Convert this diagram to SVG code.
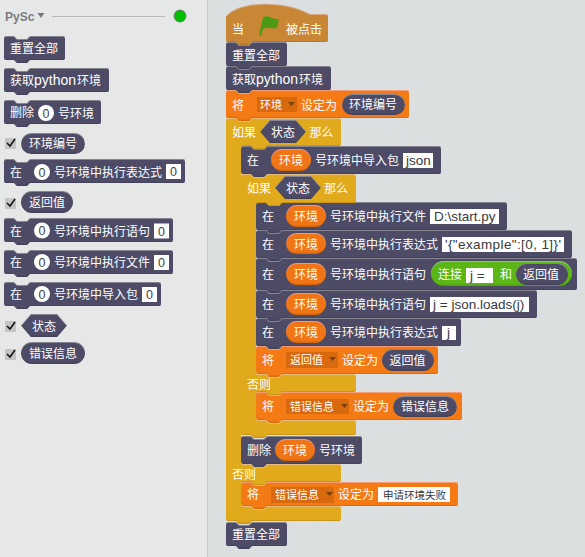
<svg xmlns="http://www.w3.org/2000/svg" width="585" height="557" viewBox="0 0 585 557">
<style>
text{font-family:"Noto Sans CJK SC","Liberation Sans",sans-serif;font-size:12px;fill:#fff}
.l{font-family:"Liberation Sans","Noto Sans CJK SC",sans-serif;font-size:14px}
.d{font-family:"Liberation Sans","Noto Sans CJK SC",sans-serif;font-size:13.5px;fill:#3a3a3a}
.n{font-family:"Liberation Sans",sans-serif;font-size:12.5px;fill:#444;text-anchor:middle}
.m{font-size:11px}
.k{fill:#4e4b66;filter:url(#bv)}
.o{fill:#f47a16;filter:url(#bv)}
.g{fill:#e1a91a;filter:url(#bv)}
.r{fill:#4e4b66;filter:url(#bv)}
.v{fill:#ef7514;filter:url(#bv)}
.i{fill:#fff}
.c{fill:#fff}
.dd{fill:#d9690f}
.tr{fill:#7a4208}
.cb{fill:#c4c4c4}
.ck{fill:none;stroke:#111;stroke-width:1.5}
</style>
<defs>
<pattern id="dots" width="19" height="19" patternUnits="userSpaceOnUse"><rect x="9" y="9" width="1" height="1" fill="#d0d3d3"/></pattern>
<filter id="bv" x="-5%" y="-10%" width="110%" height="120%">
<feOffset in="SourceAlpha" dy="-1.5" result="u"/>
<feComposite in="SourceAlpha" in2="u" operator="out" result="be"/>
<feFlood flood-color="#000" flood-opacity=".22"/><feComposite in2="be" operator="in" result="bs"/>
<feOffset in="SourceAlpha" dy="1" result="d"/>
<feComposite in="SourceAlpha" in2="d" operator="out" result="te"/>
<feFlood flood-color="#fff" flood-opacity=".18"/><feComposite in2="te" operator="in" result="ts"/>
<feMerge><feMergeNode in="SourceGraphic"/><feMergeNode in="bs"/><feMergeNode in="ts"/></feMerge>
</filter>
</defs>
<rect width="585" height="557" fill="#dcdfdf"/>
<rect width="585" height="557" fill="url(#dots)"/>
<rect width="207" height="557" fill="#e6e8e8"/>
<rect x="207" width="1" height="557" fill="#c6c8c8"/>

<g id="palette-header">
<text x="5" y="21" style="font-family:'Liberation Sans',sans-serif;font-weight:bold;font-size:12px;fill:#7d7d7d">PySc</text>
<path d="M37.500 13h7l-3.500 5z" fill="#777"/>
<rect x="52" y="16" width="113" height="1" fill="#b8b8b8"/>
<circle cx="180" cy="16" r="6" fill="#00bf00" stroke="#666" stroke-width=".8"/>
</g>

<g id="p-import"><path class="k" d="M4 284q0-2 2-2h8l3 3h10l3-3h129q2 0 2 2v20q0 2-2 2h-129l-3 3h-10l-3-3h-8q-2 0-2-2z"/><text x="10" y="299">在</text><circle class="c" cx="42" cy="294" r="8"/><text class="n" x="42" y="298.500">0</text><text x="54" y="299">号环境中导入包</text><rect class="i" x="142" y="287" width="15" height="15"/><text class="n" x="149.500" y="299">0</text></g>
<g id="p-file"><path class="k" d="M4 252q0-2 2-2h8l3 3h10l3-3h141q2 0 2 2v20q0 2-2 2h-141l-3 3h-10l-3-3h-8q-2 0-2-2z"/><text x="10" y="267">在</text><circle class="c" cx="42" cy="262" r="8"/><text class="n" x="42" y="266.500">0</text><text x="54" y="267">号环境中执行文件</text><rect class="i" x="154" y="255" width="15" height="15"/><text class="n" x="161.500" y="267">0</text></g>
<g id="p-stmt"><path class="k" d="M4 220q0-2 2-2h8l3 3h10l3-3h141q2 0 2 2v20q0 2-2 2h-141l-3 3h-10l-3-3h-8q-2 0-2-2z"/><text x="10" y="235.500">在</text><circle class="c" cx="42" cy="230.500" r="8"/><text class="n" x="42" y="235">0</text><text x="54" y="235.500">号环境中执行语句</text><rect class="i" x="154" y="223.500" width="15" height="15"/><text class="n" x="161.500" y="235.500">0</text></g>
<g id="p-expr"><path class="k" d="M4 161q0-2 2-2h8l3 3h10l3-3h153q2 0 2 2v20q0 2-2 2h-153l-3 3h-10l-3-3h-8q-2 0-2-2z"/><text x="10" y="177">在</text><circle class="c" cx="42" cy="172" r="8"/><text class="n" x="42" y="176.500">0</text><text x="54" y="177">号环境中执行表达式</text><rect class="i" x="166" y="164" width="15" height="15"/><text class="n" x="173.500" y="176">0</text></g>
<g id="p-delete"><path class="k" d="M4 102q0-2 2-2h8l3 3h10l3-3h69q2 0 2 2v20q0 2-2 2h-69l-3 3h-10l-3-3h-8q-2 0-2-2z"/><text x="10" y="117">删除</text><circle class="c" cx="46" cy="113" r="8"/><text class="n" x="46" y="117.500">0</text><text x="58" y="118">号环境</text></g>
<g id="p-getenv"><path class="k" d="M4 70q0-2 2-2h8l3 3h10l3-3h77q2 0 2 2v20q0 2-2 2h-77l-3 3h-10l-3-3h-8q-2 0-2-2z"/><text x="10" y="85">获取</text><text class="l" x="34" y="85">python</text><text x="77" y="85">环境</text></g>
<g id="p-reset"><path class="k" d="M4 38q0-2 2-2h8l3 3h10l3-3h33q2 0 2 2v20q0 2-2 2h-33l-3 3h-10l-3-3h-8q-2 0-2-2z"/><text x="10" y="53">重置全部</text></g>
<g id="p-envid"><rect class="cb" x="5" y="138" width="11" height="11"/><path class="ck" d="M7 143l3 3 5-7"/><rect class="r" x="21" y="133" width="64" height="21" rx="10.500"/><text x="29" y="148">环境编号</text></g>
<g id="p-ret"><rect class="cb" x="5" y="198" width="11" height="11"/><path class="ck" d="M7 203l3 3 5-7"/><rect class="r" x="21" y="191" width="52" height="22" rx="11"/><text x="29" y="207">返回值</text></g>
<g id="p-state"><rect class="cb" x="5" y="321" width="11" height="11"/><path class="ck" d="M7 326l3 3 5-7"/><path class="r" d="M21 325.500L31 314h26l10 11.500-10 11.500h-26z"/><text x="32" y="331">状态</text></g>
<g id="p-err"><rect class="cb" x="5" y="349" width="11" height="11"/><path class="ck" d="M7 354l3 3 5-7"/><rect class="r" x="21" y="342" width="64" height="22" rx="11"/><text x="29" y="358">错误信息</text></g>

<g id="b-reset2"><path class="k" d="M226 524q0-2 2-2h8l3 3h10l3-3h33q2 0 2 2v20q0 2-2 2h-33l-3 3h-10l-3-3h-8q-2 0-2-2z"/><text x="232" y="539">重置全部</text></g>
<g id="b-seterr2"><path class="o" d="M241 484q0-2 2-2h8l3 3h10l3-3h189q2 0 2 2v20q0 2-2 2h-189l-3 3h-10l-3-3h-8q-2 0-2-2z"/><text x="247" y="499">将</text><rect class="dd" x="271" y="487" width="63" height="16"/><text class="m" x="275" y="499">错误信息</text><path class="tr" d="M326 492h7l-3.500 4z"/><text x="338" y="499">设定为</text><rect class="i" x="378" y="487" width="72" height="15"/><text class="d" style="font-size:10.500px" x="383" y="499">申请环境失败</text></g>
<g id="b-delete"><path class="k" d="M241 438q0-2 2-2h8l3 3h10l3-3h93q2 0 2 2v24q0 2-2 2h-93l-3 3h-10l-3-3h-8q-2 0-2-2z"/><text x="247" y="455">删除</text><rect class="v" x="275" y="439" width="40" height="22" rx="11"/><text x="283" y="455">环境</text><text x="319" y="455">号环境</text></g>
<g id="b-seterr"><path class="o" d="M256 394q0-2 2-2h8l3 3h10l3-3h178q2 0 2 2v24q0 2-2 2h-178l-3 3h-10l-3-3h-8q-2 0-2-2z"/><text x="262" y="411">将</text><rect class="dd" x="286" y="399" width="63" height="15"/><text class="m" x="290" y="411">错误信息</text><path class="tr" d="M341 404h7l-3.500 4z"/><text x="353" y="411">设定为</text><rect class="r" x="393" y="396" width="64" height="21" rx="10.500"/><text x="401" y="411">错误信息</text></g>
<g id="b-setret"><path class="o" d="M256 348q0-2 2-2h8l3 3h10l3-3h154q2 0 2 2v24q0 2-2 2h-154l-3 3h-10l-3-3h-8q-2 0-2-2z"/><text x="262" y="365">将</text><rect class="dd" x="286" y="352" width="52" height="16"/><text class="m" x="290" y="364">返回值</text><path class="tr" d="M329 357h7l-3.500 4z"/><text x="342" y="365">设定为</text><rect class="r" x="382" y="349" width="52" height="22" rx="11"/><text x="389.500" y="365">返回值</text></g>
<g id="b-exprj"><path class="k" d="M256 320q0-2 2-2h8l3 3h10l3-3h177q2 0 2 2v24q0 2-2 2h-177l-3 3h-10l-3-3h-8q-2 0-2-2z"/><text x="262" y="337">在</text><rect class="v" x="286" y="321" width="40" height="22" rx="11"/><text x="294" y="337">环境</text><text x="330" y="337">号环境中执行表达式</text><rect class="i" x="442" y="326" width="14" height="14"/><text class="d" x="447" y="337">j</text></g>
<g id="b-loads"><path class="k" d="M256 292q0-2 2-2h8l3 3h10l3-3h253q2 0 2 2v24q0 2-2 2h-253l-3 3h-10l-3-3h-8q-2 0-2-2z"/><text x="262" y="309">在</text><rect class="v" x="286" y="293" width="40" height="22" rx="11"/><text x="294" y="309">环境</text><text x="330" y="309">号环境中执行语句</text><rect class="i" x="430" y="297" width="99" height="15"/><text class="d" x="433" y="309">j = json.loads(j)</text></g>
<g id="b-join"><path class="k" d="M256 260q0-2 2-2h8l3 3h10l3-3h293q2 0 2 2v28q0 2-2 2h-293l-3 3h-10l-3-3h-8q-2 0-2-2z"/><text x="262" y="279">在</text><rect class="v" x="286" y="263" width="40" height="22" rx="11"/><text x="294" y="279">环境</text><text x="330" y="279">号环境中执行语句</text><rect x="431" y="261" width="141" height="25" rx="12.500" fill="#5cb712" style="filter:url(#bv)"/><text x="438" y="279">连接</text><rect class="i" x="466" y="268" width="27" height="15"/><text class="d" x="470" y="280">j =</text><text x="500" y="279">和</text><rect class="r" x="516" y="263" width="52" height="22" rx="11"/><text x="523" y="279">返回值</text></g>
<g id="b-expr"><path class="k" d="M256 232q0-2 2-2h8l3 3h10l3-3h288q2 0 2 2v24q0 2-2 2h-288l-3 3h-10l-3-3h-8q-2 0-2-2z"/><text x="262" y="249">在</text><rect class="v" x="286" y="233" width="40" height="21" rx="10.500"/><text x="294" y="249">环境</text><text x="330" y="249">号环境中执行表达式</text><rect class="i" x="442" y="237" width="122" height="15"/><text class="d" x="445" y="249" textLength="116">'{"example":[0, 1]}'</text></g>
<g id="b-file"><path class="k" d="M256 204q0-2 2-2h8l3 3h10l3-3h223q2 0 2 2v24q0 2-2 2h-223l-3 3h-10l-3-3h-8q-2 0-2-2z"/><text x="262" y="221">在</text><rect class="v" x="286" y="205" width="40" height="22" rx="11"/><text x="294" y="221">环境</text><text x="330" y="221">号环境中执行文件</text><rect class="i" x="430" y="209" width="69" height="15"/><text class="d" x="434" y="221">D:\start.py</text></g>

<g id="b-if-inner"><path class="g" d="M241 176q0-2 2-2h8l3 3h10l3-3h87q2 0 2 2v25q0 2-2 2H282l-3 3h-10l-3-3h-8q-2 0-2 2V372q0 2 2 2h8l3 3h10l3-3H354q2 0 2 2v14q0 2-2 2H282l-3 3h-10l-3-3h-8q-2 0-2 2V418q0 2 2 2h8l3 3h10l3-3H354q2 0 2 2v11q0 2-2 2H267l-3 3h-10l-3-3h-8q-2 0-2-2z"/><text x="247" y="193">如果</text><path class="r" d="M275 187.500L285 176h26l10 11.500-10 11.500h-26z"/><text x="286" y="193">状态</text><text x="324" y="193">那么</text><text x="247" y="389">否则</text></g>
<g id="b-import"><path class="k" d="M241 148q0-2 2-2h8l3 3h10l3-3h172q2 0 2 2v24q0 2-2 2h-172l-3 3h-10l-3-3h-8q-2 0-2-2z"/><text x="247" y="165">在</text><rect class="v" x="271" y="149" width="40" height="22" rx="11"/><text x="279" y="165">环境</text><text x="315" y="165">号环境中导入包</text><rect class="i" x="403" y="153" width="30" height="15"/><text class="d" x="406" y="165">json</text></g>
<g id="b-if-outer"><path class="g" d="M226 120q0-2 2-2h8l3 3h10l3-3h87q2 0 2 2v24q0 2-2 2H267l-3 3h-10l-3-3h-8q-2 0-2 2V462q0 2 2 2h8l3 3h10l3-3H339q2 0 2 2v14q0 2-2 2H267l-3 3h-10l-3-3h-8q-2 0-2 2V504q0 2 2 2h8l3 3h10l3-3H339q2 0 2 2v11q0 2-2 2H252l-3 3h-10l-3-3h-8q-2 0-2-2z"/><text x="232" y="137">如果</text><path class="r" d="M260 131.500L270 120h26l10 11.500-10 11.500h-26z"/><text x="271" y="137">状态</text><text x="309.500" y="137">那么</text><text x="232" y="479">否则</text></g>
<g id="b-setenv"><path class="o" d="M226 92q0-2 2-2h8l3 3h10l3-3h155q2 0 2 2v24q0 2-2 2h-155l-3 3h-10l-3-3h-8q-2 0-2-2z"/><text x="232" y="110">将</text><rect class="dd" x="257" y="97" width="40" height="15"/><text class="m" x="260" y="109">环境</text><path class="tr" d="M288 102h7l-3.500 4z"/><text x="301" y="110">设定为</text><rect class="r" x="342" y="94" width="63" height="21" rx="10.500"/><text x="349" y="109">环境编号</text></g>
<g id="b-getenv"><path class="k" d="M226 68q0-2 2-2h8l3 3h10l3-3h77q2 0 2 2v20q0 2-2 2h-77l-3 3h-10l-3-3h-8q-2 0-2-2z"/><text x="232" y="84">获取</text><text class="l" x="256" y="84">python</text><text x="299" y="84">环境</text></g>
<g id="b-reset"><path class="k" d="M226 44q0-2 2-2h8l3 3h10l3-3h33q2 0 2 2v20q0 2-2 2h-33l-3 3h-10l-3-3h-8q-2 0-2-2z"/><text x="232" y="60">重置全部</text></g>
<g id="b-hat"><path d="M226 16C240 0 285 0 310 14H326q2 0 2 2V40q0 2-2 2H252l-3 3h-10l-3-3h-8q-2 0-2-2z" fill="#c98734" style="filter:url(#bv)"/><text x="232" y="34">当</text><path d="M259 35L263 17c5-2 8 1 12 2l4 0-2 9c-5 1-8-1-12 0l-2 1-2 7z" fill="#4c9a13"/><text x="286" y="34">被点击</text></g>
</svg>
